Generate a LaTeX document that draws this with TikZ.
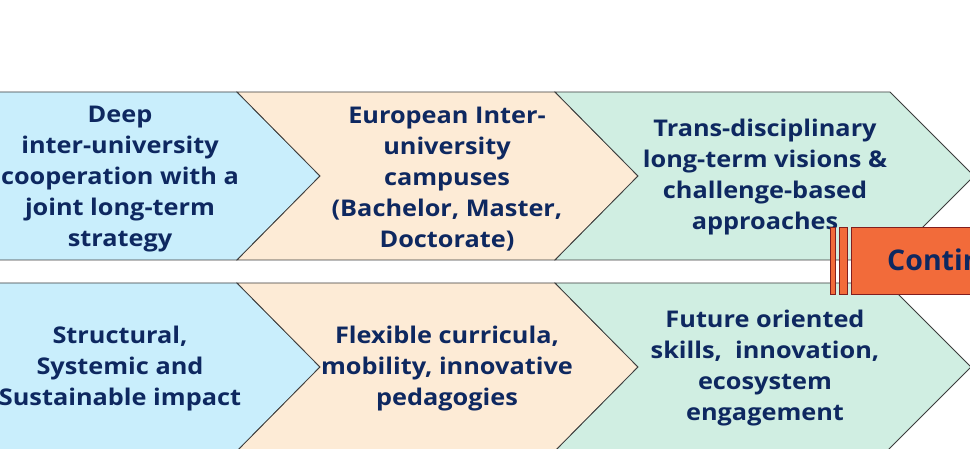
\documentclass[tikz,border=0pt]{standalone}
\usepackage{fontspec}
\setmainfont{Open Sans}[FakeStretch=1.1]
\newfontfamily\contfont{Open Sans}
\definecolor{ctext}{RGB}{14,40,96}
\definecolor{cblue}{RGB}{201,238,252}
\definecolor{cpeach}{RGB}{253,235,214}
\definecolor{cgreen}{RGB}{208,238,226}
\definecolor{corange}{RGB}{242,107,58}
\definecolor{cdred}{RGB}{130,30,30}
\definecolor{cline}{RGB}{60,60,60}
\tikzset{
  chev/.style={draw=cline, line width=0.8pt, line join=miter},
  lbl/.style={text=ctext, font=\bfseries\fontsize{23}{31}\selectfont, align=center, inner sep=0pt},
  bar/.style={fill=corange, draw=cdred, line width=1pt}
}
\begin{document}
\begin{tikzpicture}[x=1pt,y=-1pt]
\useasboundingbox (0,0) rectangle (970,449);
% top row
\fill[cblue] (-10,92) -- (237,92) -- (320,176) -- (237,260) -- (-10,260) -- cycle;
\draw[chev] (-10,92) -- (237,92) -- (320,176) -- (237,260) -- (-10,260);
\filldraw[chev, fill=cpeach] (237,92) -- (555,92) -- (638,176) -- (555,260) -- (237,260) -- (320,176) -- cycle;
\filldraw[chev, fill=cgreen] (555,92) -- (890,92) -- (974,176) -- (890,260) -- (555,260) -- (638,176) -- cycle;
% bottom row
\fill[cblue] (-10,283) -- (237,283) -- (320,367) -- (237,451) -- (-10,451) -- cycle;
\draw[chev] (-10,283) -- (237,283) -- (320,367) -- (237,451);
\filldraw[chev, fill=cpeach] (237,283) -- (555,283) -- (638,367) -- (555,451) -- (237,451) -- (320,367) -- cycle;
\filldraw[chev, fill=cgreen] (555,283) -- (887,283) -- (971,367) -- (887,451) -- (555,451) -- (638,367) -- cycle;
% labels
\node[lbl] (t1) at (120,179) {Deep\\inter-university\\cooperation with a\\joint long-term\\strategy};
\node[lbl] (t2) at (447,179) {European Inter-\\university\\campuses\\(Bachelor, Master,\\Doctorate)};
\node[lbl] (t3) at (765,177) {Trans-disciplinary\\long-term visions \&\\challenge-based\\approaches};
\node[lbl] (b1) at (120,369) {Structural,\\Systemic and\\Sustainable impact};
\node[lbl] (b2) at (447,369) {Flexible curricula,\\mobility, innovative\\pedagogies};
\node[lbl] (b3) at (765,368) {Future oriented\\skills,\ \ innovation,\\ecosystem\\engagement};
% orange continuation box
\draw[bar] (830,228) rectangle (835,295);
\draw[bar] (839,228) rectangle (847,295);
\draw[bar] (851,228) rectangle (990,295);
\node[anchor=base west, inner sep=0pt, text=ctext, font=\contfont\bfseries\fontsize{28.5}{34}\selectfont] (c) at (887,271) {Contin};
\end{tikzpicture}
\end{document}
